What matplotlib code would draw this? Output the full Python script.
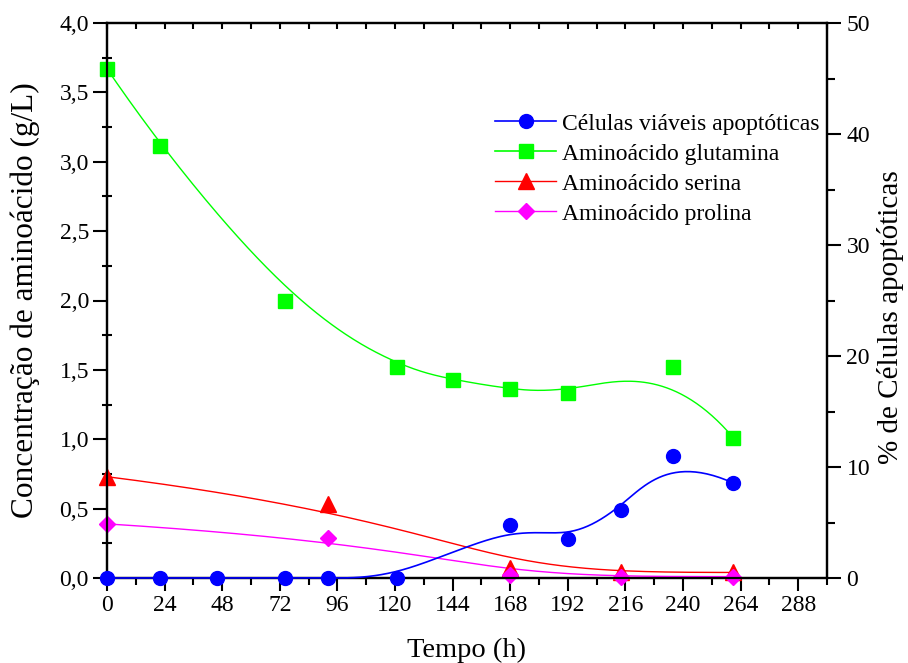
import numpy as np
import matplotlib
matplotlib.use("Agg")
import matplotlib.pyplot as plt
from matplotlib.ticker import FuncFormatter, MultipleLocator
from matplotlib.lines import Line2D

plt.rcParams['font.family'] = ['Liberation Serif', 'DejaVu Serif']

# ---- data ----
t_glu = [0, 22, 74, 121, 144, 168, 192, 236, 261]
glu = [3.67, 3.11, 2.00, 1.52, 1.43, 1.36, 1.33, 1.52, 1.01]

t_ser = [0, 92, 168, 214, 261]
ser = [0.73, 0.53, 0.07, 0.04, 0.04]

t_pro = [0, 92, 168, 214, 261]
pro = [0.39, 0.29, 0.02, 0.01, 0.01]

t_apo = [0, 22, 46, 74, 92, 121, 168, 192, 214, 236, 261]
apo = [0, 0, 0, 0, 0, 0, 4.75, 3.5, 6.1, 11.0, 8.55]

x_ticks = [0, 24, 48, 72, 96, 120, 144, 168, 192, 216, 240, 264, 288]

labels = ['Células viáveis apoptóticas', 'Aminoácido glutamina',
          'Aminoácido serina', 'Aminoácido prolina']


def bspline(xs, ys, num=400, k=3):
    """Clamped uniform B-spline using the data points as control points."""
    P = np.column_stack([xs, ys]).astype(float)
    n = len(P)
    k = min(k, n - 1)
    inner = np.linspace(0, 1, n - k + 1)
    knots = np.concatenate([np.zeros(k), inner, np.ones(k)])
    u = np.linspace(0, 1, num)
    u[-1] = 1 - 1e-12

    def N(i, p, uu):
        if p == 0:
            return np.where((knots[i] <= uu) & (uu < knots[i + 1]), 1.0, 0.0)
        a = 0.0
        d1 = knots[i + p] - knots[i]
        if d1 > 0:
            a = (uu - knots[i]) / d1 * N(i, p - 1, uu)
        b = 0.0
        d2 = knots[i + p + 1] - knots[i + 1]
        if d2 > 0:
            b = (knots[i + p + 1] - uu) / d2 * N(i + 1, p - 1, uu)
        return a + b

    B = np.array([N(i, k, u) for i in range(n)])
    C = B.T @ P
    return C[:, 0], C[:, 1]


W, H = 908, 663
fig = plt.figure(figsize=(W / 100, H / 100), dpi=100)
ax = fig.add_axes([107 / W, 1 - 578 / H, (827 - 107) / W, (578 - 23) / H])
ax2 = ax.twinx()

GREEN = '#00FF00'
RED = '#FF0000'
MAG = '#FF00FF'
BLUE = '#0000FF'

# amino acids on left axis
for xs, ys, c, m, ms in [
    (t_glu, glu, GREEN, 's', 9.5),
    (t_ser, ser, RED, '^', 11),
    (t_pro, pro, MAG, 'D', 8.5),
]:
    sx, sy = bspline(xs, ys)
    ax.plot(sx, sy, color=c, lw=1.0, zorder=3)
    ax.plot(xs, ys, ls='none', marker=m, ms=ms, color=c, mec=c, clip_on=False, zorder=4)

# apoptotic cells on right axis
sx, sy = bspline(t_apo, apo)
ax2.plot(sx, sy, color=BLUE, lw=1.2, zorder=3, clip_on=False)
ax2.plot(t_apo, apo, ls='none', marker='o', ms=10, color=BLUE, clip_on=False, zorder=5)

ax.set_xlim(0, 300)
ax.set_ylim(0, 4.0)
ax2.set_ylim(0, 50)

ax.set_xticks(x_ticks)
ax.xaxis.set_minor_locator(MultipleLocator(12))
ax.yaxis.set_major_locator(MultipleLocator(0.5))
ax.yaxis.set_minor_locator(MultipleLocator(0.25))
ax.yaxis.set_major_formatter(FuncFormatter(lambda v, p: f"{v:.1f}".replace('.', ',')))
ax2.yaxis.set_major_locator(MultipleLocator(10))
ax2.yaxis.set_minor_locator(MultipleLocator(5))

for a in (ax, ax2):
    for s in a.spines.values():
        s.set_linewidth(1.6)

TL = 17
ax.tick_params(axis='x', which='major', direction='out', length=9, width=1.5,
               labelsize=TL, pad=3)
ax.tick_params(axis='x', which='minor', direction='out', length=5, width=1.5)
ax.tick_params(axis='x', which='both', top=True, labeltop=False)
ax.tick_params(axis='y', which='major', direction='out', length=10, width=1.5,
               labelsize=TL, pad=3)
ax.tick_params(axis='y', which='minor', direction='inout', length=7, width=1.5)
ax2.tick_params(axis='y', which='major', direction='out', length=10, width=1.5,
                labelsize=TL, pad=4)
ax2.tick_params(axis='y', which='minor', direction='out', length=6, width=1.5)
# top ticks short and inward
for tk in ax.xaxis.get_major_ticks() + ax.xaxis.get_minor_ticks():
    tk.tick2line.set_marker(3)
    tk.tick2line.set_markersize(4)

ax.set_xlabel('Tempo (h)', fontsize=20.5, labelpad=16)
ax.set_ylabel('Concentração de aminoácido (g/L)', fontsize=22.5, labelpad=14)
ax2.set_ylabel('% de Células apoptóticas', fontsize=21, labelpad=5)
ax2.yaxis.label.set_y(0.47)

handles = [
    Line2D([], [], color=BLUE, lw=1.2, marker='o', ms=10),
    Line2D([], [], color=GREEN, lw=1.2, marker='s', ms=9.5),
    Line2D([], [], color=RED, lw=1.0, marker='^', ms=11),
    Line2D([], [], color=MAG, lw=1.0, marker='D', ms=8.5),
]
ax2.legend(handles, labels, loc='upper left', bbox_to_anchor=(495 / W, 1 - 113 / H),
           bbox_transform=fig.transFigure, frameon=False, fontsize=17,
           handlelength=2.6, handletextpad=0.25, labelspacing=0.36, borderpad=0,
           borderaxespad=0)

fig.savefig('out.png', dpi=100)
